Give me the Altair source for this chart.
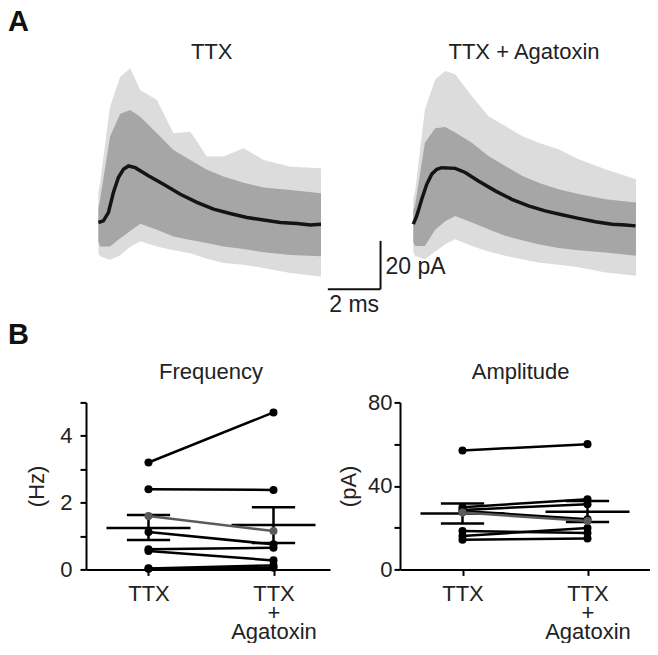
import altair as alt
import pandas as pd

FONT = "Liberation Sans"
TEXT = "#222222"
GREY_CELL = "#5a5a5a"

# ---------------- Panel A: traces (ms, pA; inward current drawn upward) ----------------
TRACE_TITLES = ["TTX", "TTX + Agatoxin"]
TRACE_TITLE_T = [4.3, 4.2]

TTX_MEAN_T = [0, 0.19, 0.38, 0.57, 0.76, 0.95, 1.14, 1.40, 1.90, 2.47, 3.11, 3.74, 4.37, 5.00, 5.64, 6.27, 6.91, 7.54, 8.05, 8.45]
TTX_MEAN_V = [0, 0.7, 4.1, 12.4, 18.6, 22.0, 23.4, 22.7, 19.3, 15.8, 11.7, 8.3, 5.5, 3.7, 2.1, 1.0, 0.0, -0.4, -1.0, -0.7]

AG_MEAN_T = [0, 0.13, 0.32, 0.51, 0.70, 0.89, 1.08, 1.59, 1.97, 2.47, 3.11, 3.74, 4.37, 5.00, 5.64, 6.27, 6.91, 7.54, 8.05, 8.43]
AG_MEAN_V = [-0.7, 2.7, 9.6, 15.8, 20.0, 22.0, 22.7, 22.4, 20.7, 17.2, 13.1, 9.6, 6.9, 4.8, 3.2, 1.7, 0.3, -0.7, -1.0, -1.4]

ENV_T = [0, 0.065, 0.44, 0.83, 1.21, 1.59, 2.22, 2.85, 3.49, 4.12, 4.75, 5.51, 6.27, 7.29, 8.45]
TTX_OUTER_HI = [12, 16.3, 47.9, 60.3, 63.8, 54.8, 50.7, 36.9, 37.6, 27.3, 27.3, 30.7, 25.9, 23.1, 22.5]
TTX_DENSE_HI = [6, 9.4, 35.5, 45, 46.6, 43.8, 36.9, 30, 25.9, 21.8, 19, 16.5, 14.5, 13.5, 12.1]
TTX_DENSE_LO = [-8, -9.9, -9.9, -6.5, -3.5, -0.5, -3, -5.8, -7.2, -8.5, -9.9, -11, -12.3, -13.4, -14]
TTX_OUTER_LO = [-13, -14, -15.4, -13.5, -10, -7.8, -9.9, -11.5, -12.7, -15, -16.8, -17.5, -18.8, -20.9, -22.3]

AG_OUTER_HI = [10, 12.4, 46.8, 59.2, 62.7, 61.3, 52.3, 44, 39.9, 35.8, 33, 30.3, 26.2, 22, 17.9]
AG_DENSE_HI = [5, 6.9, 33, 39, 39.5, 37.2, 33, 27.5, 23.4, 19.3, 16.5, 13.8, 11.8, 9.6, 8.3]
AG_DENSE_LO = [-8, -9.7, -9.7, -3, 0.5, 2.7, 0, -2.8, -5.5, -7.3, -9, -10.5, -11.5, -12.4, -13.8]
AG_OUTER_LO = [-12, -13.8, -15.2, -12, -9, -6.9, -9.7, -12, -13.8, -15.2, -16.5, -17.5, -18.5, -20.7, -22]

SCALE_BAR_T = [8.71, 10.71]      # 2 ms
SCALE_BAR_V = [-27.6, -7.6]      # 20 pA
SCALE_BAR_LABELS = ["2 ms", "20 pA"]

PANEL_LETTERS = ["A", "B"]

# ---------------- Panel B: paired cells ----------------
CATEGORIES = ["TTX", "TTX + Agatoxin"]
PANEL_B_TITLES = ["Frequency", "Amplitude"]
PANEL_B_TITLE_X = [0.5, 0.465]
HIGHLIGHT_CELL = 2
FREQ_TTX = [3.2, 2.4, 1.6, 1.12, 0.6, 0.55, 0.03, 0.02]
FREQ_AG = [4.7, 2.38, 1.15, 0.75, 0.65, 0.27, 0.12, 0.05]
FREQ_MEAN = [1.24, 1.33]
FREQ_SEM_LO = [0.88, 0.79]
FREQ_SEM_HI = [1.63, 1.86]

AMP_TTX = [57, 29.8, 27.2, 28.5, 28, 18.4, 16, 14.2]
AMP_AG = [60, 33.6, 23.2, 31.2, 24, 17.4, 19.8, 14.8]
AMP_MEAN = [26.8, 27.6]
AMP_SEM_LO = [22.0, 22.7]
AMP_SEM_HI = [31.6, 32.8]

FREQ_TICKS = [0, 1, 2, 3, 4, 5]
FREQ_LABELED = [0, 2, 4]
AMP_TICKS = [0, 20, 40, 60, 80]
AMP_LABELED = [0, 40, 80]

MEAN_HALF = 0.336
CAP_HALF = 0.173

Y_A = alt.Scale(domain=[-30, 66], nice=False, zero=False)


def letter_layer(letter, yv):
    df = pd.DataFrame({"label": [letter]})
    return alt.Chart(df).mark_text(font=FONT, fontSize=29, fontWeight="bold", align="left",
                                   baseline="alphabetic", color="#111111").encode(
        x=alt.value(-78), y=alt.value(yv), text="label:N")


def title_layer(title, xpos, xs, x_axis, yv):
    df = pd.DataFrame({"label": [title], "x": [xpos]})
    return alt.Chart(df).mark_text(font=FONT, fontSize=22, align="center",
                                   baseline="alphabetic", color=TEXT).encode(
        x=alt.X("x:Q", scale=xs, axis=x_axis), y=alt.value(yv), text="label:N")


def trace_panel(mean_t, mean_v, ohi, dhi, dlo, olo, title, title_t, xdom, width, extra=None):
    xs = alt.Scale(domain=xdom, nice=False, zero=False)
    env = pd.DataFrame({"t": ENV_T, "ohi": ohi, "olo": olo, "dhi": dhi, "dlo": dlo})
    mean_df = pd.DataFrame({"t": mean_t, "v": mean_v})
    outer = alt.Chart(env).mark_area(color="#dcdcdc", opacity=1).encode(
        x=alt.X("t:Q", scale=xs, axis=None),
        y=alt.Y("ohi:Q", scale=Y_A, axis=None), y2="olo:Q")
    dense = alt.Chart(env).mark_area(color="#a6a6a6", opacity=1).encode(
        x=alt.X("t:Q", scale=xs, axis=None),
        y=alt.Y("dhi:Q", scale=Y_A, axis=None), y2="dlo:Q")
    line = alt.Chart(mean_df).mark_line(color="#141414", strokeWidth=3.5).encode(
        x=alt.X("t:Q", scale=xs, axis=None),
        y=alt.Y("v:Q", scale=Y_A, axis=None))
    layers = [outer, dense, line, title_layer(title, title_t, xs, None, -4.3)]
    if extra:
        layers += extra(xs)
    return alt.layer(*layers).properties(width=width, height=232)


def ttx_extras(xs):
    sb = pd.DataFrame({"t0": [SCALE_BAR_T[0]], "t1": [SCALE_BAR_T[1]],
                       "v0": [SCALE_BAR_V[0]], "v1": [SCALE_BAR_V[1]],
                       "tm": [(SCALE_BAR_T[0] + SCALE_BAR_T[1]) / 2],
                       "lx": [SCALE_BAR_LABELS[0]], "ly": [SCALE_BAR_LABELS[1]]})
    base = alt.Chart(sb)
    h = base.mark_rule(color="#111111", strokeWidth=2).encode(
        x=alt.X("t0:Q", scale=xs, axis=None), x2="t1:Q", y=alt.Y("v0:Q", scale=Y_A, axis=None))
    v = base.mark_rule(color="#111111", strokeWidth=2).encode(
        x=alt.X("t1:Q", scale=xs, axis=None), y=alt.Y("v0:Q", scale=Y_A, axis=None), y2="v1:Q")
    tx = base.mark_text(font=FONT, fontSize=23, color=TEXT, align="center", baseline="alphabetic",
                        dy=23).encode(
        x=alt.X("tm:Q", scale=xs, axis=None), y=alt.Y("v0:Q", scale=Y_A, axis=None), text="lx:N")
    ty = base.mark_text(font=FONT, fontSize=23, color=TEXT, align="left", baseline="alphabetic",
                        dx=5, dy=-15).encode(
        x=alt.X("t1:Q", scale=xs, axis=None), y=alt.Y("v0:Q", scale=Y_A, axis=None), text="ly:N")
    return [h, v, tx, ty, letter_layer(PANEL_LETTERS[0], -31.6)]


def pair_panel(ttx, ag, mean, lo, hi, title, title_x, ytitle, ydom, yticks, ylabeled, width, xdom,
               lab_pad, tit_pad, letter=None):
    rows = []
    for i, (a, b) in enumerate(zip(ttx, ag)):
        hl = "grey" if i == HIGHLIGHT_CELL else "black"
        rows.append({"cell": i, "x": 0, "v": a, "hl": hl})
        rows.append({"cell": i, "x": 1, "v": b, "hl": hl})
    pts = pd.DataFrame(rows)
    st = pd.DataFrame({"x": [0, 1], "mean": mean, "lo": lo, "hi": hi})
    st["m0"] = st["x"] - MEAN_HALF
    st["m1"] = st["x"] + MEAN_HALF
    st["c0"] = st["x"] - CAP_HALF
    st["c1"] = st["x"] + CAP_HALF

    xs = alt.Scale(domain=xdom, nice=False, zero=False)
    ys = alt.Scale(domain=ydom, nice=False, zero=False)
    lab_list = ",".join(str(v) for v in ylabeled)
    x_axis = alt.Axis(values=[0, 1], title=None, grid=False, labelAngle=0, labelPadding=8,
                      labelLineHeight=19, labelOverlap=False, labelFlush=False,
                      labelExpr="datum.value == 0 ? 'TTX' : ['TTX', '+', 'Agatoxin']")
    y_axis = alt.Axis(values=yticks, title=ytitle, grid=False, format="d",
                      labelPadding=lab_pad, titlePadding=tit_pad,
                      labelExpr="indexof([" + lab_list + "], datum.value) >= 0 ? datum.label : ''")

    def X(f):
        return alt.X(f, scale=xs, axis=x_axis)

    def Y(f):
        return alt.Y(f, scale=ys, axis=y_axis)

    sb = alt.Chart(st)
    mean_rule = sb.mark_rule(color="#000000", strokeWidth=2.5).encode(
        x=X("m0:Q"), x2="m1:Q", y=Y("mean:Q"))
    cap_hi = sb.mark_rule(color="#000000", strokeWidth=2.5).encode(
        x=X("c0:Q"), x2="c1:Q", y=Y("hi:Q"))
    cap_lo = sb.mark_rule(color="#000000", strokeWidth=2.5).encode(
        x=X("c0:Q"), x2="c1:Q", y=Y("lo:Q"))
    vert = sb.mark_rule(color="#000000", strokeWidth=2.5).encode(
        x=X("x:Q"), y=Y("lo:Q"), y2="hi:Q")

    pb = alt.Chart(pts)
    lines_b = pb.transform_filter("datum.hl == 'black'").mark_line(
        color="#000000", strokeWidth=2.5).encode(x=X("x:Q"), y=Y("v:Q"), detail="cell:N")
    lines_g = pb.transform_filter("datum.hl == 'grey'").mark_line(
        color=GREY_CELL, strokeWidth=2.5).encode(x=X("x:Q"), y=Y("v:Q"), detail="cell:N")
    pts_b = pb.transform_filter("datum.hl == 'black'").mark_circle(
        color="#000000", size=65, opacity=1).encode(x=X("x:Q"), y=Y("v:Q"))
    pts_g = pb.transform_filter("datum.hl == 'grey'").mark_circle(
        color=GREY_CELL, size=65, opacity=1).encode(x=X("x:Q"), y=Y("v:Q"))

    layers = [mean_rule, cap_hi, cap_lo, vert, lines_b, lines_g, pts_b, pts_g,
              title_layer(title, title_x, xs, x_axis, -23.3)]
    if letter:
        layers.append(letter_layer(letter, -58.3))
    return alt.layer(*layers).properties(width=width, height=167)


a1 = trace_panel(TTX_MEAN_T, TTX_MEAN_V, TTX_OUTER_HI, TTX_DENSE_HI, TTX_DENSE_LO, TTX_OUTER_LO,
                 TRACE_TITLES[0], TRACE_TITLE_T[0], [-0.47, 8.45], 235, extra=ttx_extras)
a2 = trace_panel(AG_MEAN_T, AG_MEAN_V, AG_OUTER_HI, AG_DENSE_HI, AG_DENSE_LO, AG_OUTER_LO,
                 TRACE_TITLES[1], TRACE_TITLE_T[1], [-0.505, 8.45], 236)
b1 = pair_panel(FREQ_TTX, FREQ_AG, FREQ_MEAN, FREQ_SEM_LO, FREQ_SEM_HI,
                PANEL_B_TITLES[0], PANEL_B_TITLE_X[0], "(Hz)",
                [0, 5], FREQ_TICKS, FREQ_LABELED, 244, [-0.5, 1.452], 8, 11,
                letter=PANEL_LETTERS[1])
b2 = pair_panel(AMP_TTX, AMP_AG, AMP_MEAN, AMP_SEM_LO, AMP_SEM_HI,
                PANEL_B_TITLES[1], PANEL_B_TITLE_X[1], "(pA)",
                [0, 80], AMP_TICKS, AMP_LABELED, 250, [-0.5, 1.5], 2, 7)

chart = alt.concat(a1, a2, b1, b2, columns=2,
                   spacing={"row": 107.4, "column": 70}, bounds="flush").properties(
    padding=0
).configure_view(strokeWidth=0).configure_axis(
    domainColor="#000000", domainWidth=2, tickColor="#000000", tickWidth=2, tickSize=6,
    labelFont=FONT, labelFontSize=22, labelColor=TEXT,
    titleFont=FONT, titleFontSize=22, titleFontWeight="normal", titleColor=TEXT
)

chart.save("out.html", embed_options={"renderer": "svg", "actions": False})
